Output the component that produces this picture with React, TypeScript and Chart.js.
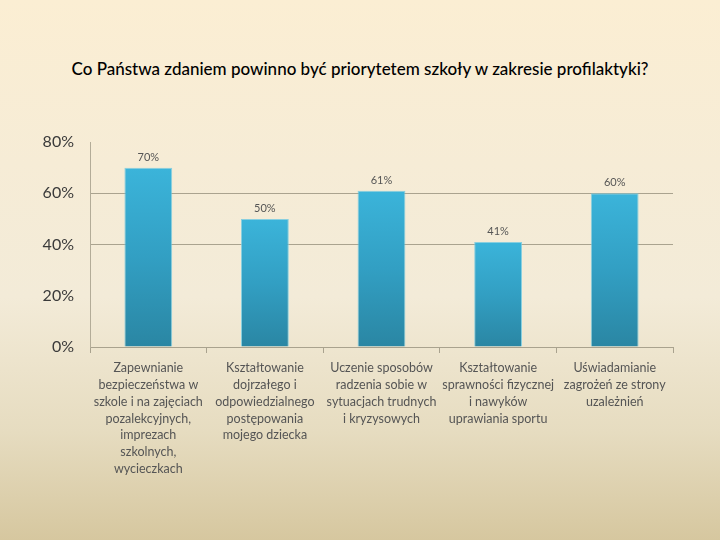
import React, { useEffect, useRef } from "react";
import { Chart, registerables } from "chart.js";

Chart.register(...registerables);

const titleText = "Co Państwa zdaniem powinno być priorytetem szkoły w zakresie profilaktyki?";
const categories: string[][] = [
  ["Zapewnianie", "bezpieczeństwa w", "szkole i na zajęciach", "pozalekcyjnych,", "imprezach", "szkolnych,", "wycieczkach"],
  ["Kształtowanie", "dojrzałego i", "odpowiedzialnego", "postępowania", "mojego dziecka"],
  ["Uczenie sposobów", "radzenia sobie w", "sytuacjach trudnych", "i kryzysowych"],
  ["Kształtowanie", "sprawności fizycznej", "i nawyków", "uprawiania sportu"],
  ["Uświadamianie", "zagrożeń ze strony", "uzależnień"],
];
const values: number[] = [70, 50, 61, 41, 60];
const yTicks: number[] = [0, 20, 40, 60, 80];
const gridValues: number[] = [40, 60];

const FONT = "Lato, 'Open Sans', sans-serif";

const dataLabelPlugin = {
  id: "dataLabels",
  afterDatasetsDraw(chart: any) {
    const ctx = chart.ctx;
    const meta = chart.getDatasetMeta(0);
    ctx.save();
    ctx.font = `11px ${FONT}`;
    ctx.fillStyle = "#555555";
    ctx.textAlign = "center";
    ctx.textBaseline = "bottom";
    meta.data.forEach((bar: any, i: number) => {
      ctx.fillText(values[i] + "%", bar.x, bar.y - 5);
    });
    ctx.restore();
  },
};

export default function App() {
  const ref = useRef<HTMLCanvasElement>(null);
  useEffect(() => {
    if (!ref.current) return;
    const chart = new Chart(ref.current, {
      type: "bar",
      data: {
        labels: categories,
        datasets: [
          {
            data: values,
            backgroundColor: (c: any) => {
              const ch = c.chart;
              const y = ch.scales && ch.scales.y;
              if (!ch.chartArea || !y || c.parsed == null) return "#33a3c8";
              const top = y.getPixelForValue(c.parsed.y);
              const bottom = y.getPixelForValue(0);
              const g = ch.ctx.createLinearGradient(0, top, 0, bottom);
              g.addColorStop(0, "#3bb4da");
              g.addColorStop(0.5, "#329fc3");
              g.addColorStop(1, "#2a86a3");
              return g;
            },
            borderColor: "rgba(110,200,225,0.8)",
            borderWidth: 1,
            barPercentage: 0.41,
            categoryPercentage: 1,
          },
        ],
      },
      options: {
        animation: false,
        responsive: false,
        layout: { padding: { top: 142, left: 0, right: 47, bottom: 0 } },
        plugins: { legend: { display: false }, tooltip: { enabled: false }, title: { display: false } },
        scales: {
          x: {
            afterFit: (s: any) => {
              s.height = 193;
            },
            grid: { drawOnChartArea: false, drawTicks: true, tickLength: 6, color: "#a9a28e", offset: true },
            border: { display: true, color: "#a9a28e" },
            ticks: {
              color: "#555555",
              font: { family: FONT, size: 12.5, lineHeight: 1.34 },
              padding: 7,
              maxRotation: 0,
              autoSkip: false,
            },
          },
          y: {
            min: 0,
            max: 80,
            afterFit: (s: any) => {
              s.width = 90;
            },
            afterBuildTicks: (s: any) => {
              s.ticks = yTicks.map((v) => ({ value: v }));
            },
            grid: {
              drawTicks: false,
              color: (c: any) =>
                c.tick && gridValues.includes(c.tick.value) ? "#aaa38f" : "rgba(0,0,0,0)",
            },
            border: { display: true, color: "#b3ac98" },
            ticks: {
              color: "#3a3a3a",
              font: { family: FONT, size: 16 },
              padding: 16,
              callback: (v: any) => v + "%",
            },
          },
        },
      },
      plugins: [dataLabelPlugin],
    });
    return () => chart.destroy();
  }, []);

  return (
    <div
      style={{
        position: "fixed",
        left: 0,
        top: 0,
        width: 720,
        height: 540,
        background:
          "linear-gradient(to bottom, #fbeed3 0%, #f6ecd6 30%, #f3ebd8 55%, #e6dcc0 80%, #d6c79f 100%)",
      }}
    >
      <div
        style={{
          position: "absolute",
          left: 0,
          top: 58,
          width: 720,
          textAlign: "center",
          fontFamily: FONT,
          fontSize: 17,
          fontWeight: 500,
          color: "#000",
        }}
      >
        {titleText}
      </div>
      <canvas ref={ref} width={720} height={540} style={{ position: "absolute", left: 0, top: 0 }} />
    </div>
  );
}
